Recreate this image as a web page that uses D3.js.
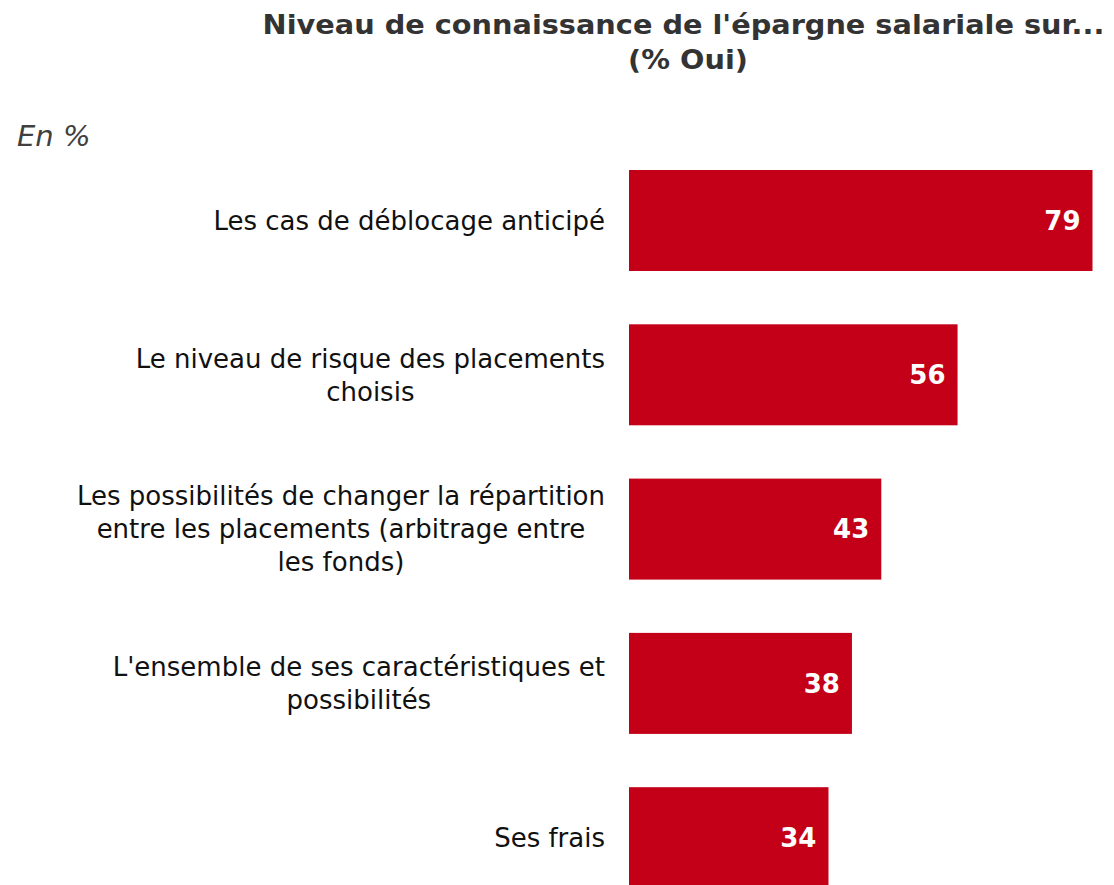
<!DOCTYPE html>
<html>
<head>
<meta charset="utf-8">
<script src="https://cdn.jsdelivr.net/npm/d3@7"></script>
<style>
  body { margin: 0; background: #fff; }
  svg { display: block; font-family: "DejaVu Sans", Verdana, sans-serif; }
</style>
</head>
<body>
<div id="chart"></div>
<script>
// data
const categories = [
  ["Les cas de déblocage anticipé"],
  ["Le niveau de risque des placements", "choisis"],
  ["Les possibilités de changer la répartition", "entre les placements (arbitrage entre", "les fonds)"],
  ["L'ensemble de ses caractéristiques et", "possibilités"],
  ["Ses frais"]
];
const values = [79, 56, 43, 38, 34];
const titleLines = ["Niveau de connaissance de l'épargne salariale sur...", "(% Oui)"];
const unitLabel = "En %";

const width = 1114, height = 885;
const barColor = "#C40018";

const svg = d3.select("#chart").append("svg")
  .attr("width", width)
  .attr("height", height);

const step = 154.3, barH = 101;
const x = d3.scaleLinear().domain([0, 79]).range([629, 1092.5]);
const y = d3.scaleBand()
  .domain(d3.range(values.length))
  .range([170, 170 + step * (values.length - 1) + barH])
  .paddingInner((step - barH) / step)
  .paddingOuter(0);

// title (Verdana bold is wider than DejaVu, so stretch a little)
const title = svg.append("text")
  .attr("text-anchor", "middle")
  .attr("font-weight", "bold")
  .attr("font-size", 26.5)
  .attr("fill", "#333");
title.selectAll("tspan")
  .data(titleLines)
  .join("tspan")
  .attr("x", (d, i) => i ? 688 : 683.5)
  .attr("y", (d, i) => 34 + i * 35)
  .text(d => d)
  .each(function() {
    const w = this.getComputedTextLength();
    d3.select(this).attr("textLength", w * 1.085).attr("lengthAdjust", "spacingAndGlyphs");
  });

svg.append("text")
  .attr("x", 17)
  .attr("y", 146)
  .attr("font-style", "italic")
  .attr("font-size", 29)
  .attr("fill", "#404040")
  .text(unitLabel);

// bars
svg.append("g")
  .selectAll("rect")
  .data(values)
  .join("rect")
  .attr("x", x(0))
  .attr("y", (d, i) => y(i))
  .attr("width", d => x(d) - x(0))
  .attr("height", y.bandwidth())
  .attr("fill", barColor);

// value labels
svg.append("g")
  .selectAll("text")
  .data(values)
  .join("text")
  .attr("x", d => x(d) - 12)
  .attr("y", (d, i) => y(i) + y.bandwidth() / 2)
  .attr("dy", "0.36em")
  .attr("text-anchor", "end")
  .attr("font-weight", "bold")
  .attr("font-size", 26)
  .attr("fill", "#fff")
  .text(d => d);

// category labels: lines centred in a block right-aligned at 605
const lineH = 33;
const labelG = svg.append("g");
categories.forEach((lines, i) => {
  const t = labelG.append("text")
    .attr("font-size", 26)
    .attr("fill", "#111")
    .attr("text-anchor", "middle");
  const tsp = t.selectAll("tspan").data(lines).join("tspan").text(d => d);
  const maxW = d3.max(tsp.nodes(), n => n.getComputedTextLength());
  const cx = 605 - maxW / 2;
  const cy = y(i) + y.bandwidth() / 2;
  const y0 = cy - (lines.length - 1) * lineH / 2;
  tsp.attr("x", cx)
    .attr("y", (d, j) => y0 + j * lineH)
    .attr("dy", "0.36em");
});
</script>
</body>
</html>
